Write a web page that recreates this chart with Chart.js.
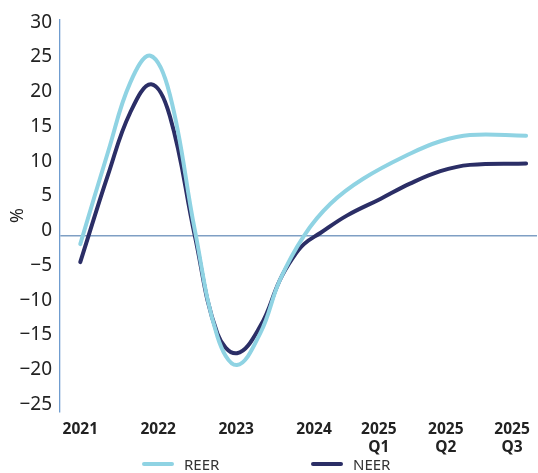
<!DOCTYPE html>
<html><head><meta charset="utf-8">
<script src="https://cdn.jsdelivr.net/npm/chart.js@4.4.1/dist/chart.umd.min.js"></script>
<style>
body{margin:0;background:#fff;}
#wrap{position:relative;width:538px;height:473px;overflow:hidden;}
#c{position:absolute;left:0;top:0;}
.lg{position:absolute;top:453px;height:21px;font:15px "Noto Sans",sans-serif;color:#333;display:flex;align-items:center;white-space:nowrap;}
.sw{display:inline-block;width:32px;height:4px;border-radius:2px;margin-right:10px;}
</style></head><body>
<div id="wrap"><canvas id="c" width="538" height="473"></canvas></div>
<script>
// Period positions (2021 = 0, 2022 = 1, ...) of the plotted observations
const reerX = [0, 0.36, 0.64, 0.90, 1.15, 1.47, 1.76, 2.01, 2.31, 2.56, 2.87, 3.21, 3.63, 4.23, 4.62, 5.00, 5.72];
const reer  = [-1.2, 12.2, 22.0, 25.9, 20.3, 0.8, -14.5, -18.6, -14.0, -6.4, 0.0, 4.6, 8.2, 11.8, 13.6, 14.5, 14.4];
const neerX = [0, 0.36, 0.64, 0.91, 1.15, 1.47, 1.76, 2.01, 2.31, 2.56, 2.72, 2.87, 3.08, 3.42, 3.85, 4.23, 4.62, 5.00, 5.72];
const neer  = [-3.8, 8.9, 17.7, 21.8, 17.2, 0.0, -14.1, -16.9, -13.0, -6.4, -3.3, -1.2, 0.4, 2.9, 5.3, 7.5, 9.3, 10.2, 10.4];
const seriesNames = ['REER', 'NEER'];
const seriesColors = ['#8fd3e3', '#2b2e66'];
const xTickPos = [0, 1, 2, 3, 3.83, 4.69, 5.54];
const xTickLabels = [['2021'], ['2022'], ['2023'], ['2024'], ['2025', 'Q1'], ['2025', 'Q2'], ['2025', 'Q3']];
const yTicks = [-25, -20, -15, -10, -5, 0, 5, 10, 15, 20, 25, 30];
const yTitle = '%';

const mk = (xs, ys) => xs.map((x, i) => ({x: x, y: ys[i]}));
const series = [mk(reerX, reer), mk(neerX, neer)];

new Chart(document.getElementById('c'), {
  type: 'line',
  data: {
    datasets: series.map((s, i) => ({
      label: seriesNames[i],
      data: s,
      borderColor: seriesColors[i],
      backgroundColor: seriesColors[i],
      borderWidth: 4,
      pointRadius: 0,
      borderCapStyle: 'round',
      borderJoinStyle: 'round',
      tension: 0.4,
      fill: false
    }))
  },
  options: {
    responsive: false,
    animation: false,
    layout: {padding: {top: 18.3, left: 0, right: 1, bottom: 0}},
    plugins: {legend: {display: false}, tooltip: {enabled: false}},
    scales: {
      x: {
        type: 'linear',
        min: -0.26,
        max: 5.86,
        grid: {display: false},
        border: {display: false},
        afterBuildTicks: (s) => { s.ticks = xTickPos.map(v => ({value: v})); },
        afterFit: (s) => { s.height = 61.3; },
        ticks: {
          autoSkip: false,
          maxRotation: 0,
          padding: 1,
          color: '#222',
          font: {family: 'Noto Sans', size: 15.5, weight: 'bold', lineHeight: 1.14},
          callback: (v, i) => xTickLabels[i]
        }
      },
      y: {
        min: -25.31,
        max: 31.13,
        afterBuildTicks: (s) => { s.ticks = yTicks.map(v => ({value: v})); },
        afterFit: (s) => { s.width = 60; },
        border: {display: true, color: '#6f9ccf', width: 1.3},
        grid: {
          drawTicks: false,
          color: (ctx) => (ctx.tick && ctx.tick.value === 0) ? '#7f9fc4' : 'rgba(0,0,0,0)',
          lineWidth: 1.5
        },
        title: {display: true, text: yTitle, color: '#222', font: {family: 'Noto Sans', size: 18}, padding: {top: 7, bottom: 0}},
        ticks: {
          padding: 8,
          labelOffset: -5,
          color: '#222',
          font: {family: 'Noto Sans', size: 19},
          callback: (v) => String(v).replace('-', '\u2212')
        }
      }
    }
  }
});

// HTML legend built from the series arrays
const legendX = [142, 311];
const wrap = document.getElementById('wrap');
seriesNames.forEach((n, i) => {
  const d = document.createElement('div');
  d.className = 'lg';
  d.style.left = legendX[i] + 'px';
  const sw = document.createElement('span');
  sw.className = 'sw';
  sw.style.background = seriesColors[i];
  d.appendChild(sw);
  d.appendChild(document.createTextNode(n));
  wrap.appendChild(d);
});
</script>
</body></html>
